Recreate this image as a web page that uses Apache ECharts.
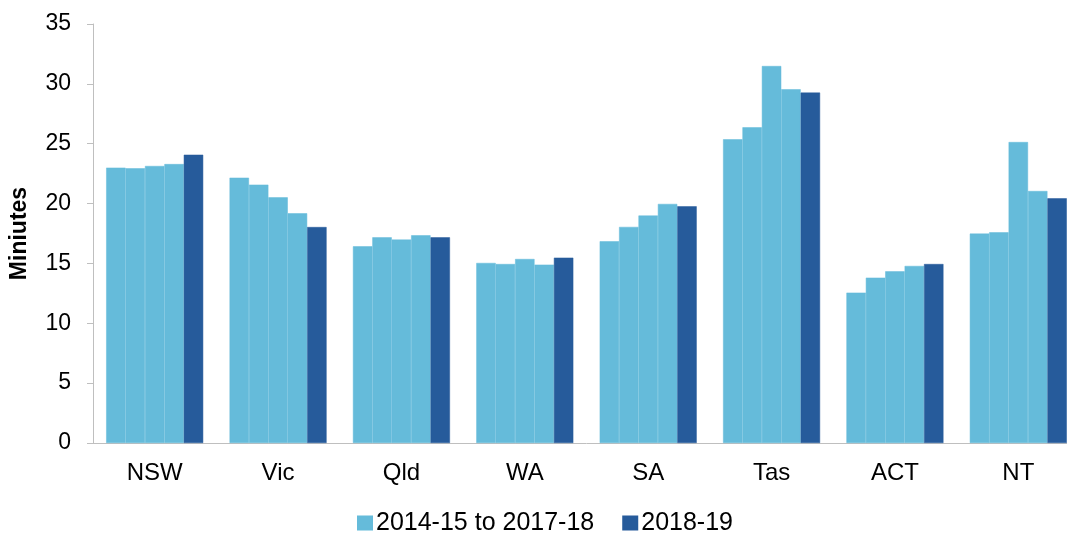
<!DOCTYPE html>
<html>
<head>
<meta charset="utf-8">
<script src="https://cdn.jsdelivr.net/npm/echarts@6/dist/echarts.min.js"></script>
<style>
html,body{margin:0;padding:0;background:#fff;overflow:hidden;width:1067px;height:533px;}
#chart{width:1081px;height:533px;}
</style>
</head>
<body>
<div id="chart"></div>
<script>
var categories = ['NSW', 'Vic', 'Qld', 'WA', 'SA', 'Tas', 'ACT', 'NT'];
var y2014_15 = [23.0, 22.16, 16.43, 15.04, 16.85, 25.37, 12.56, 17.49];
var y2015_16 = [22.95, 21.58, 17.18, 14.95, 18.05, 26.37, 13.81, 17.6];
var y2016_17 = [23.14, 20.52, 16.99, 15.37, 19.0, 31.49, 14.34, 25.14];
var y2017_18 = [23.3, 19.19, 17.35, 14.9, 19.97, 29.55, 14.79, 21.05];
var y2018_19 = [24.08, 18.04, 17.18, 15.48, 19.77, 29.27, 14.95, 20.44];
var yTicks = [0, 5, 10, 15, 20, 25, 30, 35];
var seriesNames = ['2014-15 to 2017-18', '2018-19'];

var light = '#65BBDA';
var dark = '#265B9B';
var font = 'Liberation Sans, Arial, sans-serif';

function bar(name, data, color) {
  return {
    name: name,
    type: 'bar',
    data: data,
    barWidth: 19.4,
    barGap: '0%',
    itemStyle: { color: color, borderColor: color, borderWidth: 0.5 },
    emphasis: { disabled: true }
  };
}

var chart = echarts.init(document.getElementById('chart'), null, { renderer: 'canvas' });
chart.setOption({
  animation: false,
  backgroundColor: '#ffffff',
  textStyle: { fontFamily: font },
  grid: { left: 92, top: 24, width: 988, height: 419, containLabel: false },
  legend: {
    data: seriesNames,
    top: 505,
    left: 352,
    padding: 5,
    itemWidth: 14,
    itemHeight: 13,
    itemGap: 28,
    icon: 'rect',
    textStyle: { fontSize: 25, lineHeight: 26, color: '#000', fontFamily: font, padding: [0, 0, 0, -1] }
  },
  xAxis: {
    type: 'category',
    data: categories,
    axisLine: { show: true, lineStyle: { color: '#BFBFBF', width: 1 } },
    axisTick: { show: false },
    axisLabel: { fontSize: 24, color: '#000', margin: 18, fontFamily: font },
    splitLine: { show: false }
  },
  yAxis: {
    type: 'value',
    min: yTicks[0],
    max: yTicks[yTicks.length - 1],
    interval: 5,
    name: 'Miniutes',
    nameLocation: 'middle',
    nameGap: 62,
    nameTextStyle: { fontSize: 23, fontWeight: 'bold', color: '#000', fontFamily: font },
    axisLine: { show: true, lineStyle: { color: '#BFBFBF', width: 1 } },
    axisTick: { show: true, length: 6, lineStyle: { color: '#BFBFBF' } },
    axisLabel: { fontSize: 23, color: '#000', margin: 22, fontFamily: font },
    splitLine: { show: false }
  },
  series: [
    bar(seriesNames[0], y2014_15, light),
    bar(seriesNames[0], y2015_16, light),
    bar(seriesNames[0], y2016_17, light),
    bar(seriesNames[0], y2017_18, light),
    bar(seriesNames[1], y2018_19, dark)
  ]
});
</script>
</body>
</html>
